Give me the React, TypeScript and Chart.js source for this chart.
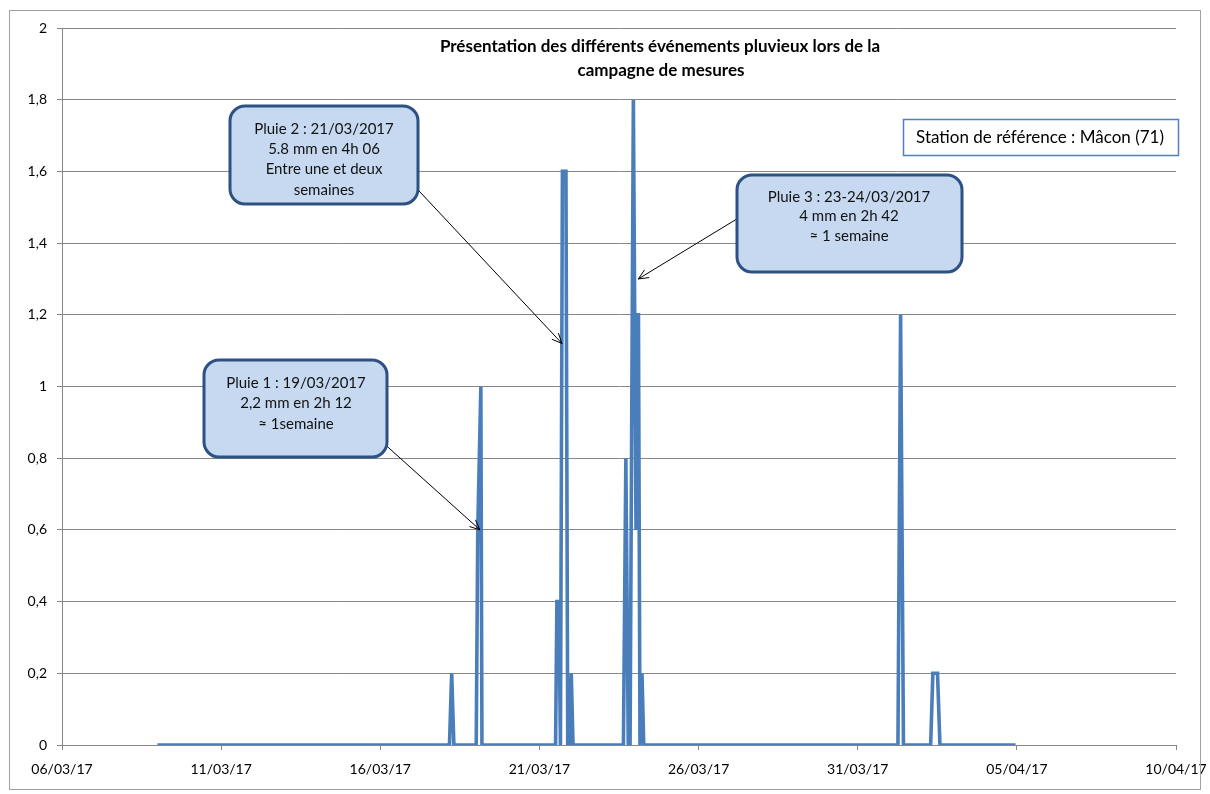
import React, { useEffect, useRef } from "react";
import { Chart, registerables } from "chart.js";

Chart.register(...registerables);

// ---- Data ----
const xTickLabels = ["06/03/17", "11/03/17", "16/03/17", "21/03/17", "26/03/17", "31/03/17", "05/04/17", "10/04/17"];
const yTickLabels = ["0", "0,2", "0,4", "0,6", "0,8", "1", "1,2", "1,4", "1,6", "1,8", "2"];

const times = [
  "09/03 00:00",
  "18/03 04:10", "18/03 05:50", "18/03 07:30",
  "19/03 00:20", "19/03 01:30", "19/03 03:50", "19/03 04:40",
  "21/03 12:10", "21/03 13:10", "21/03 14:40", "21/03 15:50", "21/03 17:20", "21/03 20:00", "21/03 21:20",
  "21/03 22:40", "22/03 00:00", "22/03 01:20",
  "23/03 15:20", "23/03 17:10", "23/03 19:00", "23/03 20:20", "23/03 22:50",
  "24/03 00:50", "24/03 02:00", "24/03 02:40", "24/03 03:50", "24/03 05:20", "24/03 06:40",
  "01/04 06:20", "01/04 08:20", "01/04 10:30",
  "02/04 07:00", "02/04 08:40", "02/04 12:10", "02/04 14:00",
  "04/04 23:00",
];
const rain = [
  0,
  0, 0.2, 0,
  0, 0.6, 1.0, 0,
  0, 0.4, 0.4, 0, 1.6, 1.6, 0,
  0, 0.2, 0,
  0, 0.8, 0, 0, 1.8,
  0.6, 1.2, 1.2, 0, 0.2, 0,
  0, 1.2, 0,
  0, 0.2, 0.2, 0,
  0,
];

const title = ["Présentation des différents événements pluvieux lors de la", "campagne de mesures"];
const stationText = "Station de référence : Mâcon (71)";

const callout1 = ["Pluie 1 : 19/03/2017", "2,2 mm en 2h 12", "≈ 1semaine"];
const callout2 = ["Pluie 2 : 21/03/2017", "5.8 mm en 4h 06", "Entre une et deux", "semaines"];
const callout3 = ["Pluie 3 : 23-24/03/2017", "4 mm en 2h 42", "≈ 1 semaine"];
// arrow tips, in data coordinates (time, value)
const tip1 = ["19/03 03:10", 0.6] as const;
const tip2 = ["21/03 17:00", 1.12] as const;
const tip3 = ["24/03 02:32", 1.3] as const;

function dayOf(s: string): number {
  const [d, t] = s.split(" ");
  const [dd, mm] = d.split("/").map(Number);
  const [hh, mi] = t.split(":").map(Number);
  const idx = mm === 3 ? dd - 6 : 31 - 6 + dd;
  return idx + (hh + mi / 60) / 24;
}

const FONT = "Lato, 'Open Sans', sans-serif";

function drawArrow(ctx: CanvasRenderingContext2D, x0: number, y0: number, x1: number, y1: number) {
  ctx.save();
  ctx.strokeStyle = "#000";
  ctx.lineWidth = 1;
  ctx.beginPath();
  ctx.moveTo(x0, y0);
  ctx.lineTo(x1, y1);
  ctx.stroke();
  const ang = Math.atan2(y1 - y0, x1 - x0);
  const L = 11;
  const a = 0.42;
  ctx.beginPath();
  ctx.moveTo(x1 - L * Math.cos(ang - a), y1 - L * Math.sin(ang - a));
  ctx.lineTo(x1, y1);
  ctx.lineTo(x1 - L * Math.cos(ang + a), y1 - L * Math.sin(ang + a));
  ctx.stroke();
  ctx.restore();
}

function drawCallout(ctx: CanvasRenderingContext2D, x: number, y: number, w: number, h: number, lines: string[], cx: number, firstY: number, gap: number) {
  ctx.save();
  ctx.beginPath();
  (ctx as any).roundRect(x, y, w, h, 15);
  ctx.fillStyle = "#c6d9f1";
  ctx.fill();
  ctx.lineWidth = 3;
  ctx.strokeStyle = "#2c5182";
  ctx.stroke();
  ctx.fillStyle = "#111";
  ctx.font = `15px ${FONT}`;
  ctx.textAlign = "center";
  ctx.textBaseline = "middle";
  lines.forEach((l, i) => ctx.fillText(l, cx, firstY + i * gap));
  ctx.restore();
}

const overlayPlugin = {
  id: "overlay",
  afterDraw(chart: any) {
    const ctx: CanvasRenderingContext2D = chart.ctx;
    const xs = chart.scales.x;
    const ys = chart.scales.y;
    // outer border
    ctx.save();
    ctx.strokeStyle = "#a0a0a0";
    ctx.lineWidth = 1;
    ctx.strokeRect(9.5, 10.5, 1191, 779);
    ctx.restore();

    // title
    ctx.save();
    ctx.fillStyle = "#000";
    ctx.font = `bold 17px ${FONT}`;
    ctx.textAlign = "center";
    ctx.textBaseline = "middle";
    ctx.fillText(title[0], 660, 47);
    ctx.fillText(title[1], 661, 71);
    ctx.restore();

    // station box
    ctx.save();
    ctx.fillStyle = "#fff";
    ctx.fillRect(903, 119, 275, 36);
    ctx.strokeStyle = "#4f81bd";
    ctx.lineWidth = 1.5;
    ctx.strokeRect(903.5, 119.5, 275, 36);
    ctx.fillStyle = "#000";
    ctx.font = `17px ${FONT}`;
    ctx.textAlign = "center";
    ctx.textBaseline = "middle";
    ctx.fillText(stationText, 1040, 138);
    ctx.restore();

    // arrows
    const p1 = [xs.getPixelForValue(dayOf(tip1[0])), ys.getPixelForValue(tip1[1])];
    const p2 = [xs.getPixelForValue(dayOf(tip2[0])), ys.getPixelForValue(tip2[1])];
    const p3 = [xs.getPixelForValue(dayOf(tip3[0])), ys.getPixelForValue(tip3[1])];
    drawArrow(ctx, 380, 440, p1[0], p1[1]);
    drawArrow(ctx, 405, 176, p2[0], p2[1]);
    drawArrow(ctx, 745, 214, p3[0], p3[1]);

    // callouts
    drawCallout(ctx, 204, 360, 183, 97, callout1, 296, 383, 20.5);
    drawCallout(ctx, 230, 106, 188, 98, callout2, 324, 129, 20.3);
    drawCallout(ctx, 737, 175, 225, 97, callout3, 849, 197, 19.5);
  },
};

export default function App() {
  const ref = useRef<HTMLCanvasElement | null>(null);
  useEffect(() => {
    document.body.style.margin = "0";
    if (!ref.current) return;
    const points = times.map((t, i) => ({ x: dayOf(t), y: rain[i] }));
    const chart = new Chart(ref.current, {
      type: "line",
      data: {
        datasets: [
          {
            data: points,
            borderColor: "#4a7ebb",
            borderWidth: 3.6,
            pointRadius: 0,
            tension: 0,
            fill: false,
          },
        ],
      },
      options: {
        animation: false,
        responsive: false,
        devicePixelRatio: 1,
        layout: { padding: { top: 28, right: 34, bottom: 0, left: 0 } },
        plugins: { legend: { display: false }, tooltip: { enabled: false }, title: { display: false } },
        scales: {
          x: {
            type: "linear",
            min: 0,
            max: 35,
            afterFit: (s: any) => {
              s.height = 49;
              s.paddingLeft = 0;
              s.paddingRight = 0;
            },
            ticks: {
              stepSize: 5,
              autoSkip: false,
              maxRotation: 0,
              padding: 11,
              color: "#000",
              font: { family: FONT, size: 14 },
              callback: (_v: any, i: number) => xTickLabels[i],
            },
            grid: { drawOnChartArea: false, drawTicks: true, tickLength: 5, color: "#868686" },
            border: { color: "#868686" },
          },
          y: {
            min: 0,
            max: 2,
            afterFit: (s: any) => {
              s.width = 62;
              s.paddingTop = 0;
              s.paddingBottom = 0;
            },
            ticks: {
              stepSize: 0.2,
              padding: 10,
              color: "#000",
              font: { family: FONT, size: 14 },
              callback: (_v: any, i: number) => yTickLabels[i],
            },
            grid: { color: "#868686", tickLength: 5, drawTicks: true },
            border: { color: "#868686" },
          },
        },
      },
      plugins: [overlayPlugin],
    } as any);
    return () => chart.destroy();
  }, []);
  return <canvas ref={ref} width={1210} height={794} style={{ display: "block" }} />;
}
